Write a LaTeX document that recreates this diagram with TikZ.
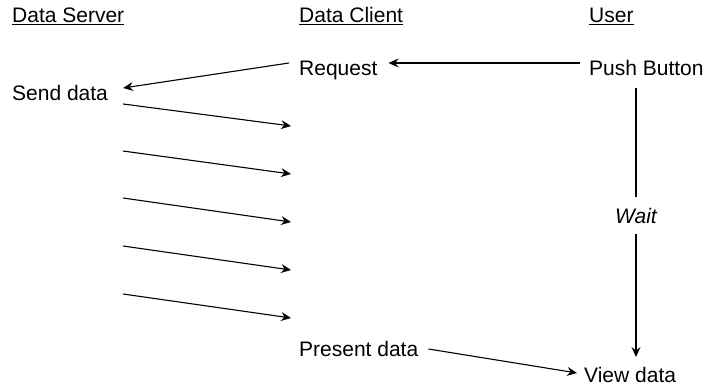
\documentclass[tikz,border=0pt]{standalone}
\usepackage{fontspec}
\setmainfont{Liberation Sans}
\usetikzlibrary{arrows.meta}
\begin{document}
\begin{tikzpicture}[x=1pt,y=-1pt,
  txt/.style={anchor=base west,inner sep=0pt,font=\fontsize{21}{25}\selectfont},
  arr/.style={draw=black,line width=1.1pt,-{Stealth[length=10pt,width=9pt,inset=3.5pt]}}]
\useasboundingbox (0,0) rectangle (705,387);
% headers
\node[txt] (hs) at (12,23) {\underline{Data Server}};
\node[txt] (hc) at (299,23) {\underline{Data Client}};
\node[txt] (hu) at (589,23) {\underline{User}};
% texts
\node[txt] (req) at (299,76) {Request};
\node[txt] (pb) at (589,76) {Push Button};
\node[txt] (sd) at (12,101) {Send data};
\node[txt] (pd) at (299,357) {Present data};
\node[txt] (vd) at (584,383) {View data};
% connectors
\draw[arr] ([xshift=-9pt,yshift=13pt]pb.base west) -- ([xshift=11pt,yshift=13pt]req.base east);
\draw[arr] ([xshift=-10pt,yshift=13pt]req.base west) -- ([xshift=15pt,yshift=13pt]sd.base east);
\draw[arr] ([xshift=15pt,yshift=-3pt]sd.base east) -- (291,126);
\coordinate (s2) at (123,151); \coordinate (t2) at (291,174);
\coordinate (s3) at (123,198); \coordinate (t3) at (291,222);
\coordinate (s4) at (123,246); \coordinate (t4) at (291,270);
\coordinate (s5) at (123,294); \coordinate (t5) at (291,318);
\draw[arr] (s2) -- (t2);
\draw[arr] (s3) -- (t3);
\draw[arr] (s4) -- (t4);
\draw[arr] (s5) -- (t5);
\draw[arr] ([xshift=47pt,yshift=-12pt]pb.base west) --
  node[pos=0.474,fill=white,inner xsep=2pt,inner ysep=11pt,font=\fontsize{21}{25}\selectfont\itshape] (wait) {Wait}
  ([xshift=52pt,yshift=26pt]vd.base west);
\draw[arr] ([xshift=10pt,yshift=8pt]pd.base east) -- ([xshift=-7pt,yshift=10pt]vd.base west);
\end{tikzpicture}
\end{document}
